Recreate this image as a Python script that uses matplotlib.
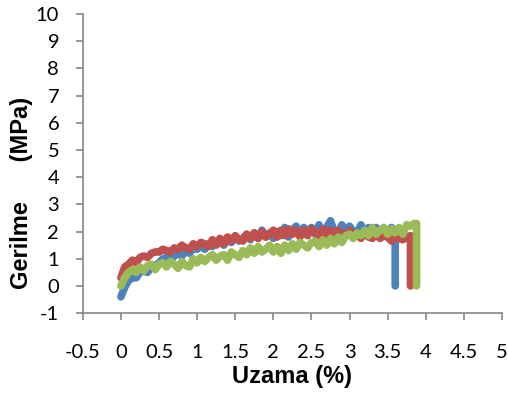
import numpy as np
import matplotlib
matplotlib.use("Agg")
import matplotlib.pyplot as plt

plt.rcParams["axes.unicode_minus"] = False

# strain grid (%), shared by the three specimens
strain = [0.00, 0.05, 0.10, 0.15, 0.20, 0.25, 0.30, 0.35, 0.40, 0.45,
          0.50, 0.55, 0.60, 0.65, 0.70, 0.75, 0.80, 0.85, 0.90, 0.95,
          1.00, 1.05, 1.10, 1.15, 1.20, 1.25, 1.30, 1.35, 1.40, 1.45,
          1.50, 1.55, 1.60, 1.65, 1.70, 1.75, 1.80, 1.85, 1.90, 1.95,
          2.00, 2.05, 2.10, 2.15, 2.20, 2.25, 2.30, 2.35, 2.40, 2.45,
          2.50, 2.55, 2.60, 2.65, 2.70, 2.75, 2.80, 2.85, 2.90, 2.95,
          3.00, 3.05, 3.10, 3.15, 3.20, 3.25, 3.30, 3.35, 3.40, 3.45,
          3.50, 3.55, 3.60, 3.65, 3.70, 3.75, 3.80, 3.85, 3.90]

# stress (MPa)
blue_y = [-0.40, -0.05, 0.20, 0.30, 0.30, 0.50, 0.55, 0.50, 0.70, 0.75,
          0.85, 1.00, 1.05, 0.95, 1.10, 1.20, 1.10, 1.30, 1.20, 1.40,
          1.35, 1.50, 1.35, 1.55, 1.45, 1.65, 1.60, 1.50, 1.70, 1.60,
          1.80, 1.65, 1.75, 1.90, 1.70, 1.95, 1.75, 2.05, 1.80, 1.95,
          1.75, 2.00, 1.85, 2.15, 1.80, 2.05, 2.20, 1.85, 2.15, 1.95,
          2.15, 1.90, 2.25, 1.95, 2.15, 2.40, 2.00, 1.95, 2.25, 1.95,
          2.20, 2.00, 1.95, 2.25, 1.95, 2.15, 1.95, 2.15, 2.00, 2.10,
          1.95, 2.15, 2.00]
blue_end = ([3.60], [0.0])

red_y = [0.30, 0.70, 0.80, 0.95, 0.85, 1.05, 1.10, 1.05, 1.20, 1.25,
         1.25, 1.35, 1.30, 1.25, 1.40, 1.35, 1.50, 1.40, 1.35, 1.55,
         1.45, 1.60, 1.55, 1.45, 1.70, 1.50, 1.75, 1.55, 1.80, 1.65,
         1.85, 1.70, 1.65, 1.90, 1.75, 1.95, 1.75, 2.00, 1.80, 1.90,
         2.05, 1.80, 2.05, 1.85, 2.10, 1.90, 2.05, 1.80, 2.05, 1.85,
         2.10, 1.95, 1.85, 2.10, 1.90, 2.05, 1.80, 2.05, 1.90, 1.85,
         2.05, 1.80, 1.95, 1.75, 2.00, 1.80, 1.75, 1.95, 1.75, 1.85,
         1.80, 1.65, 1.85, 1.75, 1.70, 1.80, 1.85]
red_end = ([3.80], [0.0])

green_y = [0.00, 0.30, 0.50, 0.60, 0.50, 0.70, 0.55, 0.75, 0.80, 0.60,
           0.80, 0.85, 0.70, 0.90, 0.80, 0.65, 0.90, 0.75, 0.70, 1.00,
           0.85, 1.05, 0.90, 1.05, 1.15, 0.95, 1.10, 1.15, 0.95, 1.25,
           1.15, 1.05, 1.30, 1.15, 1.40, 1.20, 1.45, 1.25, 1.35, 1.50,
           1.25, 1.45, 1.20, 1.50, 1.30, 1.55, 1.35, 1.60, 1.50, 1.40,
           1.60, 1.65, 1.45, 1.70, 1.50, 1.75, 1.55, 1.80, 1.60, 1.85,
           1.90, 1.75, 1.95, 1.85, 2.05, 1.85, 2.15, 1.90, 2.05, 2.15,
           1.90, 2.10, 1.95, 2.15, 1.90, 2.25, 2.20, 2.30]
green_end = ([3.88, 3.88], [2.30, 0.0])

x_ticks = [-0.5, 0, 0.5, 1, 1.5, 2, 2.5, 3, 3.5, 4, 4.5, 5]
y_ticks = [-1, 0, 1, 2, 3, 4, 5, 6, 7, 8, 9, 10]

fig = plt.figure(figsize=(5.08, 4.03), dpi=100)
ax = fig.add_axes([0.163, 0.223, 0.825, 0.742])

series = [(blue_y, blue_end, "#4F81BD"),
          (red_y, red_end, "#C0504D"),
          (green_y, green_end, "#9BBB59")]
for ys, end, col in series:
    xs = strain[:len(ys)] + end[0]
    yy = ys + end[1]
    ax.plot(xs, yy, color=col, lw=5.5, solid_joinstyle="round",
            solid_capstyle="round")

ax.set_xlim(-0.5, 5)
ax.set_ylim(-1, 10)
ax.set_xticks(x_ticks)
ax.set_xticklabels([("%g" % t) for t in x_ticks])
ax.set_yticks(y_ticks)

for s in ["top", "right"]:
    ax.spines[s].set_visible(False)
for s in ["left", "bottom"]:
    ax.spines[s].set_color("#868686")
    ax.spines[s].set_linewidth(1.2)
ax.tick_params(colors="#868686", length=5, width=1.2, labelsize=14.5,
               labelcolor="black")
ax.tick_params(axis="x", pad=17)
ax.tick_params(axis="y", pad=12)
for lab in ax.get_xticklabels() + ax.get_yticklabels():
    lab.set_family("Lato")

ax.set_xlabel("Uzama (%)", fontsize=17, fontweight="bold",
              family="Liberation Sans", labelpad=3)
fig.text(0.043, 1 - 193 / 403, "Gerilme      (MPa)", rotation=90,
         ha="center", va="center", fontsize=17, fontweight="bold",
         family="Liberation Sans")

fig.savefig("out.png", dpi=100)
